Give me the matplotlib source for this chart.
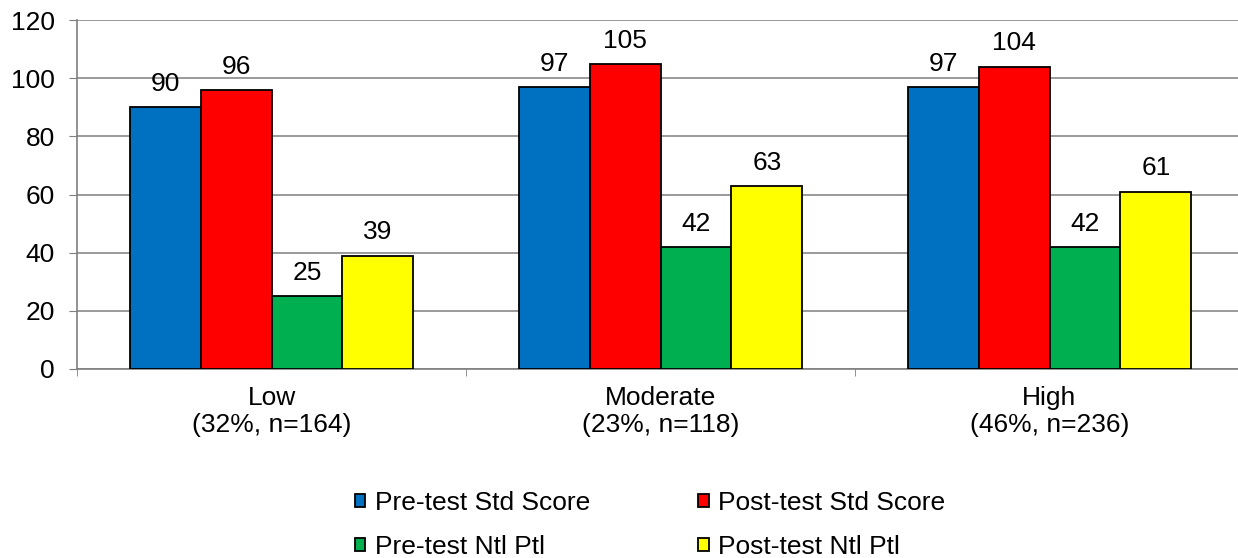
import numpy as np
import matplotlib.pyplot as plt

plt.rcParams['font.family'] = ['Liberation Sans', 'DejaVu Sans']

categories = ['Low\n(32%, n=164)', 'Moderate\n(23%, n=118)', 'High\n(46%, n=236)']
series_names = ['Pre-test Std Score', 'Post-test Std Score', 'Pre-test Ntl Ptl', 'Post-test Ntl Ptl']
pre_std = [90, 97, 97]
post_std = [96, 105, 104]
pre_ntl = [25, 42, 42]
post_ntl = [39, 63, 61]
colors = ['#0070C0', '#FF0000', '#00B050', '#FFFF00']

FS = 19

fig = plt.figure(figsize=(12.38, 5.58), dpi=100)
ax = fig.add_axes([77 / 1238, 189 / 558, 1167 / 1238, 349 / 558])

# bars grouped by category, one colour per series
x = np.arange(len(categories)) + 0.5
w = 0.1825
bars = []
for i, (vals, c) in enumerate(zip([pre_std, post_std, pre_ntl, post_ntl], colors)):
    b = ax.bar(x + (i - 1.5) * w, vals, w, color=c, edgecolor='black', linewidth=1.3,
               label=series_names[i], zorder=3)
    bars.append(b)
    for xi, v in zip(x + (i - 1.5) * w, vals):
        ax.annotate(str(v), (xi, v), xytext=(0, 8), textcoords='offset points',
                    ha='center', va='bottom', fontsize=FS)

ax.set_xlim(0, 3)
ax.set_ylim(0, 120)
ax.set_yticks(range(0, 121, 20))
ax.yaxis.grid(True, color='#7f7f7f', linewidth=1.1)
ax.set_axisbelow(True)
ax.tick_params(axis='y', labelsize=FS, length=6, color='#7f7f7f', pad=10)

ax.set_xticks(x)
ax.set_xticklabels(categories, fontsize=FS, linespacing=1.2)
ax.set_xticks([0, 1, 2, 3], minor=True)
ax.tick_params(axis='x', which='major', length=0, pad=12)
ax.tick_params(axis='x', which='minor', length=5, color='#7f7f7f')

for s in ['top', 'right']:
    ax.spines[s].set_visible(False)
for s in ['left', 'bottom']:
    ax.spines[s].set_color('#7f7f7f')
    ax.spines[s].set_linewidth(1.2)

handles = [bars[0], bars[2], bars[1], bars[3]]
labels = [series_names[0], series_names[2], series_names[1], series_names[3]]
fig.legend(handles, labels, ncol=2, loc='center', bbox_to_anchor=(650 / 1238, 1 - 525 / 558),
           frameon=False, fontsize=FS, handlelength=0.4, handleheight=0.4,
           handletextpad=0.35, columnspacing=4.1, labelspacing=0.75)

fig.savefig('out.png', dpi=100)
